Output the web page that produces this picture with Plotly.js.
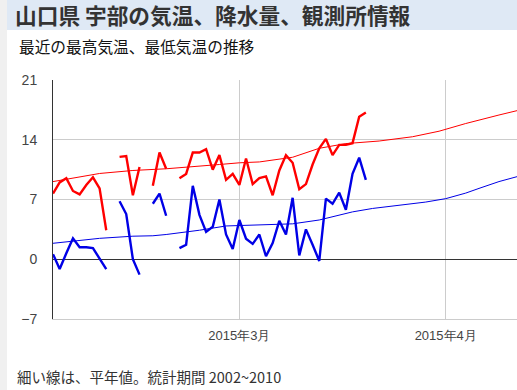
<!DOCTYPE html>
<html>
<head>
<meta charset="utf-8">
<script src="https://cdn.plot.ly/plotly-3.0.1.min.js"></script>
<style>
  html, body { margin:0; padding:0; background:#fff; width:517px; height:390px; overflow:hidden; }
  #chart { position:absolute; left:0; top:0; width:517px; height:390px; }
  #strip { position:absolute; left:0; top:0; width:7px; height:390px; background:#f0f0f0; z-index:5; }
  #header { position:absolute; left:7px; top:0; width:510px; height:30px; background:#dfe9f5; z-index:5;
            font-family:"Noto Sans CJK JP", sans-serif; font-weight:bold; font-size:21.7px; color:#333;
            line-height:30px; padding-left:8px; box-sizing:border-box; white-space:nowrap; }
  #sub { position:absolute; left:19px; top:36px; z-index:5; font-family:"Noto Sans CJK JP", sans-serif;
         font-size:15.7px; color:#111; white-space:nowrap; line-height:22px; }
  #note { position:absolute; left:17px; top:367px; z-index:5; font-family:"Noto Sans CJK JP", sans-serif;
          font-size:14.5px; color:#333; white-space:nowrap; line-height:20px; }
</style>
</head>
<body>
<div id="chart"></div>
<div id="strip"></div>
<div id="header">山口県 宇部の気温、降水量、観測所情報</div>
<div id="sub">最近の最高気温、最低気温の推移</div>
<div id="note">細い線は、平年値。統計期間 2002~2010</div>
<script>
// Daily series start date
const startDate = '2015-02-01';
// Daily max temperature (°C), Feb 1 .. Mar 20, 2015 (null = missing)
const maxTemp = [7.7, 9.0, 9.5, 8.0, 7.6, 8.7, 9.6, 8.3, 3.4, null,
                 12.0, 12.1, 7.5, 10.8, null, 8.6, 12.5, 10.6, null, 9.5,
                 10.0, 12.5, 12.5, 12.9, 10.5, 12.2, 9.3, 10.0, 8.7, 11.8,
                 8.8, 9.5, 9.7, 7.5, 10.4, 12.2, 11.3, 8.2, 8.8, 11.1,
                 13.0, 14.1, 12.2, 13.4, 13.4, 13.6, 16.7, 17.2];
// Daily min temperature (°C)
const minTemp = [0.6, -1.15, 0.7, 2.45, 1.4, 1.4, 1.3, 0.1, -1.15, null,
                 6.8, 5.3, 0.0, -1.8, null, 6.5, 7.7, 5.1, null, 1.3,
                 1.7, 8.6, 5.2, 3.2, 3.8, 7.0, 2.9, 1.2, 4.6, 2.4,
                 1.8, 2.9, 0.35, 1.9, 4.5, 2.9, 7.2, 0.45, 3.5, 1.7,
                 -0.2, 7.1, 6.5, 7.8, 5.8, 10.0, 11.9, 9.3];
// Normal (平年値) max temperature
const normMaxDates = ['2015-02-01','2015-02-08','2015-02-13','2015-02-18','2015-02-26','2015-03-01',
                      '2015-03-04','2015-03-09','2015-03-13','2015-03-17','2015-03-22','2015-03-27',
                      '2015-03-31','2015-04-04','2015-04-09','2015-04-13'];
const normMax = [9.1, 10.05, 10.4, 10.6, 11.1, 11.3, 11.4, 11.95, 13.0, 13.55, 13.85, 14.35,
                 15.0, 15.9, 16.9, 17.65];
// Normal (平年値) min temperature
const normMinDates = ['2015-02-01','2015-02-08','2015-02-13','2015-02-16','2015-02-18','2015-02-23',
                      '2015-02-27','2015-03-04','2015-03-09','2015-03-13','2015-03-18','2015-03-21',
                      '2015-03-24','2015-03-29','2015-04-01','2015-04-04','2015-04-06','2015-04-09','2015-04-13'];
const normMin = [1.87, 2.45, 2.7, 2.75, 2.9, 3.4, 3.9, 4.0, 4.15, 4.6, 5.55, 5.95,
                 6.2, 6.7, 7.1, 7.75, 8.3, 9.1, 9.95];
// Axis ticks
const xTickVals = ['2015-03-01', '2015-04-01'];
const xTickText = ['2015年3月', '2015年4月'];
const yTickVals = [-7, 0, 7, 14, 21];

function dayStr(start, n) {
  const d = new Date(start + 'T00:00:00Z');
  d.setUTCDate(d.getUTCDate() + n);
  return d.toISOString().slice(0, 10);
}
const dates = maxTemp.map((_, i) => dayStr(startDate, i));

const RED = '#ff0000', BLUE = '#0000e6';
const traces = [
  {x: normMaxDates, y: normMax, mode: 'lines', line: {color: RED, width: 1}, hoverinfo: 'skip'},
  {x: normMinDates, y: normMin, mode: 'lines', line: {color: BLUE, width: 1}, hoverinfo: 'skip'},
  {x: dates, y: maxTemp, mode: 'lines', line: {color: RED, width: 2.4}, connectgaps: false},
  {x: dates, y: minTemp, mode: 'lines', line: {color: BLUE, width: 2.4}, connectgaps: false}
];

const layout = {
  width: 517, height: 390,
  margin: {l: 53, r: 0, t: 80, b: 71, pad: 0},
  paper_bgcolor: '#fff', plot_bgcolor: '#fff',
  showlegend: false, hovermode: false,
  font: {family: '"Liberation Sans", Arial, sans-serif', size: 13, color: '#444'},
  xaxis: {
    type: 'date',
    range: ['2015-02-01', '2015-04-11 17:00'],
    tickmode: 'array', tickvals: xTickVals, ticktext: xTickText,
    showgrid: true, gridcolor: '#cccccc', gridwidth: 1,
    showline: true, linecolor: '#cccccc', linewidth: 1,
    ticks: 'outside', ticklen: 4, tickcolor: 'rgba(0,0,0,0)', zeroline: false,
    tickfont: {size: 13, color: '#444'}
  },
  yaxis: {
    range: [-7, 21],
    tickmode: 'array', tickvals: yTickVals,
    showgrid: true, gridcolor: '#cccccc', gridwidth: 1,
    zeroline: true, zerolinecolor: '#333', zerolinewidth: 1,
    showline: true, linecolor: '#333', linewidth: 1,
    ticks: 'outside', ticklen: 12, tickcolor: 'rgba(0,0,0,0)',
    tickfont: {size: 14, color: '#444'}
  }
};

Plotly.newPlot('chart', traces, layout, {displayModeBar: false, staticPlot: true});
</script>
</body>
</html>
